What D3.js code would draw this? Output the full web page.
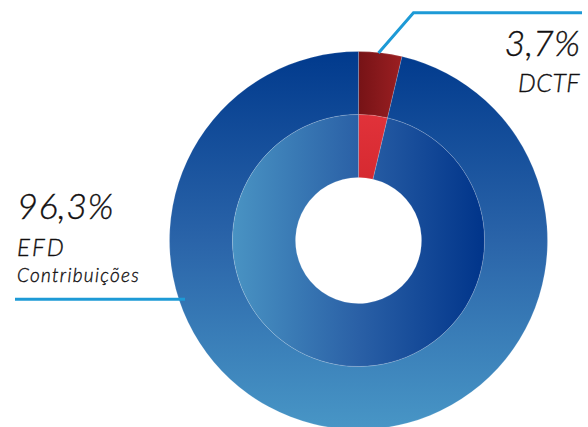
<!DOCTYPE html>
<html>
<head>
<meta charset="utf-8">
<script src="https://cdn.jsdelivr.net/npm/d3@7"></script>
<style>
  html, body { margin: 0; padding: 0; background: #fff; }
  svg { display: block; }
  .lbl { font-family: Lato, "Open Sans", sans-serif; font-style: italic; font-weight: 300; fill: #120f10; stroke: #120f10; stroke-width: 0.35; }
</style>
</head>
<body>
<div id="chart"></div>
<script>
// Share of declarations: DCTF vs EFD Contribuições
const categories = ["DCTF", "EFD Contribuições"];
const outerValues = [3.7, 96.3];
const innerValues = [3.7, 96.3];
const percentLabels = ["3,7%", "96,3%"];

const width = 588, height = 427;
const cx = 358.5, cy = 240.5;
const rOuter = 189, rMid = 126, rHole = 63;

const svg = d3.select("#chart").append("svg")
  .attr("width", width).attr("height", height);

const defs = svg.append("defs");

function linear(id, x1, y1, x2, y2, stops) {
  const g = defs.append("linearGradient").attr("id", id)
    .attr("gradientUnits", "userSpaceOnUse")
    .attr("x1", x1).attr("y1", y1).attr("x2", x2).attr("y2", y2);
  stops.forEach(([o, c]) => g.append("stop").attr("offset", o).attr("stop-color", c));
}

// outer ring: blue fades top to bottom, red darker on the left
linear("outerBlue", 0, -rOuter, 0, rOuter, [[0, "#013a8d"], [0.5, "#2a64a9"], [1, "#4896c6"]]);
linear("outerRed", 0, 0, 44, 0, [[0, "#761316"], [1, "#9c1f22"]]);
// inner ring: blue fades left to right
linear("innerBlue", -rMid, 0, rMid, 0, [[0, "#4993c3"], [0.5, "#2a60a6"], [1, "#00348a"]]);
linear("innerRed", 0, -rMid, 0, -rHole, [[0, "#e1323a"], [1, "#d62a31"]]);

const pie = d3.pie().sort(null).value(d => d);

const g = svg.append("g").attr("transform", `translate(${cx},${cy})`);

// leader lines (drawn under the rings)
const lineColor = "#1d9ad6";
svg.append("path")
  .attr("d", d3.line()([[378.5, 53], [413.5, 12.7], [582, 12.7]]))
  .attr("fill", "none").attr("stroke", lineColor).attr("stroke-width", 3);
svg.append("path")
  .attr("d", d3.line()([[15, 299.3], [185, 299.3]]))
  .attr("fill", "none").attr("stroke", lineColor).attr("stroke-width", 3);

const outerArc = d3.arc().innerRadius(rMid).outerRadius(rOuter);
const innerArc = d3.arc().innerRadius(rHole).outerRadius(rMid);

g.selectAll("path.outer").data(pie(outerValues)).join("path")
  .attr("class", "outer")
  .attr("d", outerArc)
  .attr("fill", (d, i) => i === 0 ? "url(#outerRed)" : "url(#outerBlue)")
  .attr("stroke", "rgba(255,255,255,0.3)").attr("stroke-width", 0.5);

g.selectAll("path.inner").data(pie(innerValues)).join("path")
  .attr("class", "inner")
  .attr("d", innerArc)
  .attr("fill", (d, i) => i === 0 ? "url(#innerRed)" : "url(#innerBlue)")
  .attr("stroke", "rgba(255,255,255,0.3)").attr("stroke-width", 0.5);

// labels
svg.append("text").attr("class", "lbl").attr("x", 580).attr("y", 56)
  .attr("text-anchor", "end").attr("font-size", 36).text(percentLabels[0]);
svg.append("text").attr("class", "lbl").attr("x", 580).attr("y", 92)
  .attr("text-anchor", "end").attr("font-size", 25).attr("letter-spacing", 0.5).text(categories[0]);

svg.append("text").attr("class", "lbl").attr("x", 17).attr("y", 219)
  .attr("font-size", 36).attr("letter-spacing", 0.5).text(percentLabels[1]);
const parts = categories[1].split(" ");
svg.append("text").attr("class", "lbl").attr("x", 17).attr("y", 256)
  .attr("font-size", 24).attr("letter-spacing", 2).text(parts[0]);
svg.append("text").attr("class", "lbl").attr("x", 17).attr("y", 282)
  .attr("font-size", 19).attr("letter-spacing", 1.3).text(parts[1]);
</script>
</body>
</html>
